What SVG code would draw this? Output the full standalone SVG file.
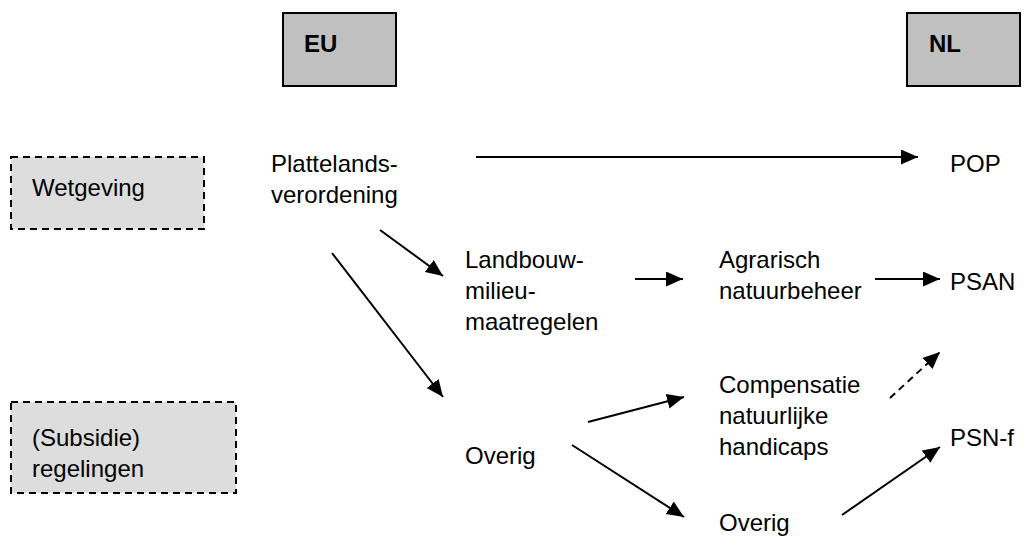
<svg xmlns="http://www.w3.org/2000/svg" width="1025" height="536" viewBox="0 0 1025 536">
  <style>
    .lbl { font-family: "Liberation Sans", Arial, sans-serif; font-size: 24px; fill: #000; }
    .head { font-family: "Liberation Sans", Arial, sans-serif; font-size: 24px; font-weight: bold; fill: #000; }
    .solid { fill: #c0c0c0; stroke: #000; stroke-width: 2; }
    .dashed { fill: #dddddd; stroke: #000; stroke-width: 2; stroke-dasharray: 7 5; }
    .arrow { stroke: #000; stroke-width: 2; fill: none; marker-end: url(#head); }
    .arrow.dash { stroke-dasharray: 7 5; }
  </style>
  <defs>
    <marker id="head" markerUnits="userSpaceOnUse" markerWidth="18" markerHeight="16" refX="17" refY="7.5" orient="auto">
      <path d="M0,0 L17,7.5 L0,15 z" fill="#000"/>
    </marker>
  </defs>
  <rect width="1025" height="536" fill="#fff"/>

  <!-- column headers -->
  <g id="eu">
    <rect class="solid" x="283" y="13" width="113" height="73"/>
    <text class="head" x="304" y="52">EU</text>
  </g>
  <g id="nl">
    <rect class="solid" x="907" y="13" width="113" height="73"/>
    <text class="head" x="929" y="52">NL</text>
  </g>

  <!-- row headers -->
  <g id="wetgeving">
    <rect class="dashed" x="11" y="157" width="193" height="72"/>
    <text class="lbl" x="32" y="196">Wetgeving</text>
  </g>
  <g id="subsidie">
    <rect class="dashed" x="11" y="402" width="225" height="91"/>
    <text class="lbl" x="32" y="446">(Subsidie)</text>
    <text class="lbl" x="32" y="477">regelingen</text>
  </g>

  <!-- nodes -->
  <g id="plattelandsverordening">
    <text class="lbl" x="271" y="172">Plattelands-</text>
    <text class="lbl" x="271" y="203">verordening</text>
  </g>
  <g id="pop">
    <text class="lbl" x="950" y="172">POP</text>
  </g>
  <g id="landbouw">
    <text class="lbl" x="465" y="268">Landbouw-</text>
    <text class="lbl" x="465" y="299">milieu-</text>
    <text class="lbl" x="465" y="330">maatregelen</text>
  </g>
  <g id="agrarisch">
    <text class="lbl" x="719" y="268">Agrarisch</text>
    <text class="lbl" x="719" y="299">natuurbeheer</text>
  </g>
  <g id="psan">
    <text class="lbl" x="950" y="290">PSAN</text>
  </g>
  <g id="compensatie">
    <text class="lbl" x="719" y="393">Compensatie</text>
    <text class="lbl" x="719" y="424">natuurlijke</text>
    <text class="lbl" x="719" y="455">handicaps</text>
  </g>
  <g id="overig-eu">
    <text class="lbl" x="465" y="464">Overig</text>
  </g>
  <g id="psnf">
    <text class="lbl" x="950" y="446">PSN-f</text>
  </g>
  <g id="overig-nl">
    <text class="lbl" x="719" y="531">Overig</text>
  </g>

  <!-- connectors -->
  <g id="connectors">
    <line class="arrow" x1="476" y1="157" x2="918" y2="157"/>
    <line class="arrow" x1="380" y1="230" x2="443" y2="276"/>
    <line class="arrow" x1="332" y1="253" x2="443" y2="397"/>
    <line class="arrow" x1="635" y1="279" x2="683" y2="279"/>
    <line class="arrow" x1="875" y1="279" x2="940" y2="279"/>
    <line class="arrow" x1="588" y1="422" x2="684" y2="397"/>
    <line class="arrow" x1="572" y1="445" x2="684" y2="517"/>
    <line class="arrow dash" x1="890" y1="398" x2="940" y2="352"/>
    <line class="arrow" x1="842" y1="515" x2="940" y2="447"/>
  </g>
</svg>
